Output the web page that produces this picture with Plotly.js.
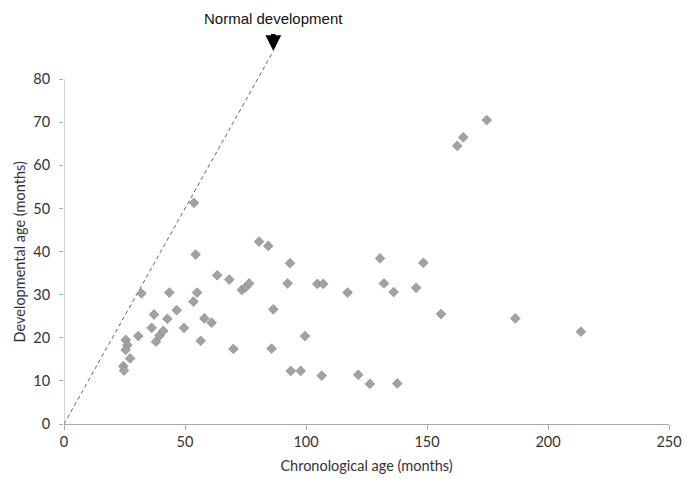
<!DOCTYPE html>
<html>
<head>
<meta charset="utf-8">
<script src="https://cdn.plot.ly/plotly-3.0.1.min.js"></script>
<style>html,body{margin:0;padding:0;background:#fff;}#chart{width:686px;height:479px;}</style>
</head>
<body>
<div id="chart"></div>
<script>
// Chronological age (months) vs developmental age (months)
const chronoAge = [53.7, 54.4, 63.3, 68.3, 32, 43.5, 55, 53.5, 46.6, 37.2, 42.7, 58, 61,
  36.2, 49.6, 38, 39.5, 41, 30.7, 56.5, 25.5, 26.2, 25.5, 27.3, 24.5, 24.8,
  80.6, 84.4, 93.4, 73.5, 75, 76.5, 92.4, 104.7, 107.1, 117.2, 86.5, 70, 85.8, 99.6,
  93.7, 97.8, 106.5, 121.6, 126.4, 137.7,
  130.6, 132.2, 136.2, 145.5, 148.5, 155.8, 162.5, 165, 174.7, 186.5, 213.6];
const devAge = [51.3, 39.3, 34.5, 33.5, 30.3, 30.5, 30.5, 28.4, 26.4, 25.4, 24.4, 24.5, 23.5,
  22.3, 22.3, 19.1, 20.5, 21.6, 20.4, 19.3, 19.5, 18.3, 17.2, 15.2, 13.4, 12.4,
  42.3, 41.3, 37.3, 31.1, 31.7, 32.6, 32.6, 32.5, 32.5, 30.5, 26.6, 17.4, 17.5, 20.4,
  12.3, 12.3, 11.2, 11.4, 9.3, 9.4,
  38.4, 32.6, 30.6, 31.6, 37.4, 25.5, 64.5, 66.5, 70.5, 24.5, 21.4];
// Normal development reference line (developmental age = chronological age)
const normalX = [0, 86.5];
const normalY = [0, 86.5];
const xTicks = [0, 50, 100, 150, 200, 250];
const yTicks = [0, 10, 20, 30, 40, 50, 60, 70, 80];
const labelFont = 'Lato, "Open Sans", sans-serif';

const traces = [
  {x: normalX, y: normalY, type: 'scatter', mode: 'lines',
   line: {color: '#666', width: 1, dash: '4px,3px'}, hoverinfo: 'skip', showlegend: false},
  {x: chronoAge, y: devAge, type: 'scatter', mode: 'markers',
   marker: {symbol: 'diamond', size: 7.5, color: '#a2a2a2', line: {color: '#808080', width: 0.6}},
   showlegend: false}
];

const layout = {
  width: 686, height: 479,
  margin: {l: 64, r: 17, t: 36, b: 55},
  paper_bgcolor: '#fff', plot_bgcolor: '#fff',
  showlegend: false,
  xaxis: {
    range: [0, 250], tickvals: xTicks, ticktext: xTicks.map(String),
    showgrid: false, zeroline: false, showline: true, linecolor: '#aaa', linewidth: 1,
    ticks: 'outside', ticklen: 5, tickcolor: '#aaa',
    tickfont: {family: labelFont, size: 14.5, color: '#333'},
    title: {text: 'Chronological age (months)', font: {family: labelFont, size: 14.5, color: '#333'}, standoff: 11}
  },
  yaxis: {
    range: [0, 90], tickvals: yTicks, ticktext: yTicks.map(String),
    showgrid: false, zeroline: false, showline: false,
    ticks: 'outside', ticklen: 4, tickcolor: '#aaa', ticklabelstandoff: 6,
    tickfont: {family: labelFont, size: 14.5, color: '#333'}
  },
  shapes: [
    {type: 'line', xref: 'x', yref: 'y', x0: 0, x1: 0, y0: 0, y1: yTicks[yTicks.length - 1],
     line: {color: '#aaa', width: 1}}
  ],
  annotations: [
    {xref: 'paper', yref: 'y', x: -0.073, y: 40, text: 'Developmental age (months)',
     textangle: -90, showarrow: false, xanchor: 'center', yanchor: 'middle',
     font: {family: labelFont, size: 14.5, color: '#333'}},
    {xref: 'x', yref: 'y', x: normalX[1], y: normalY[1], text: 'Normal development',
     showarrow: true, arrowhead: 2, arrowsize: 0.7, arrowwidth: 4.5, arrowcolor: '#000',
     ax: 0, ay: -33, startstandoff: 6,
     font: {family: '"Liberation Sans", Arial, sans-serif', size: 15, color: '#111'}}
  ]
};

Plotly.newPlot('chart', traces, layout, {displayModeBar: false, staticPlot: true});
</script>
</body>
</html>
